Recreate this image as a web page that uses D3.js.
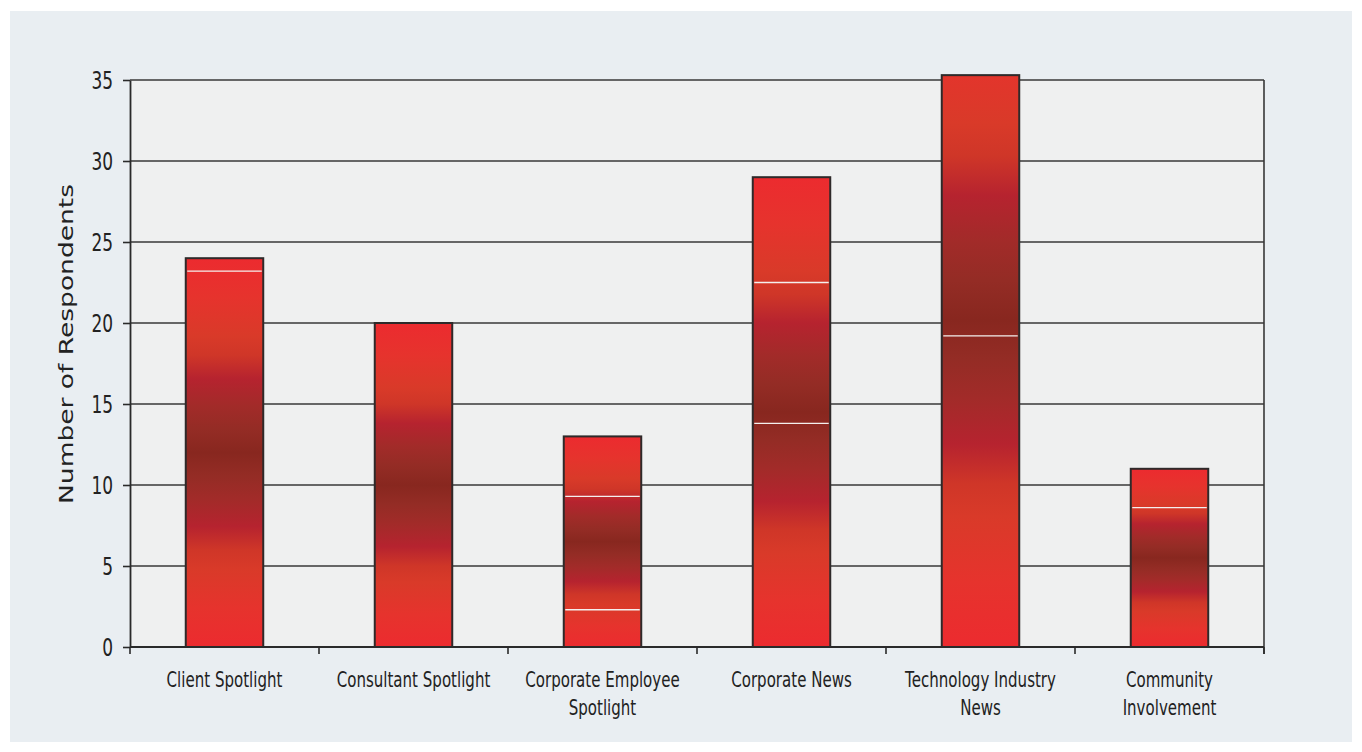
<!DOCTYPE html>
<html>
<head>
<meta charset="utf-8">
<script src="https://cdn.jsdelivr.net/npm/d3@7/dist/d3.min.js"></script>
<style>
  html, body { margin: 0; padding: 0; background: #ffffff; }
  svg { display: block; }
</style>
</head>
<body>
<svg id="chart" width="1362" height="752"></svg>
<script>
// ---- data ----
const categories = ["Client Spotlight", "Consultant Spotlight", "Corporate Employee Spotlight", "Corporate News", "Technology Industry News", "Community Involvement"];
const labelLines = [["Client Spotlight"], ["Consultant Spotlight"], ["Corporate Employee", "Spotlight"], ["Corporate News"], ["Technology Industry", "News"], ["Community", "Involvement"]];
const values = [24, 20, 13, 29, 35.3, 11];
// value at which each bar's shading pattern ends (the tallest bar is cut off)
const shadeTop = [24, 20, 13, 29, 40.4, 11];
// thin light seams visible inside the bars (value positions)
const seams = [[23.2], [], [9.3, 2.3], [22.5, 13.8], [19.2], [8.6]];
const yTicks = [0, 5, 10, 15, 20, 25, 30, 35];
const yTitle = "Number of Respondents";

// ---- layout ----
const svg = d3.select("#chart");
const plot = { left: 130, right: 1264, top: 80, bottom: 647 };
const FONT = "'DejaVu Sans', Verdana, sans-serif";
const SX = 0.70; // horizontal condensing of text

const x = d3.scaleBand().domain(categories).range([plot.left, plot.right])
  .paddingInner(0.59).paddingOuter(0.295);
const y = d3.scaleLinear().domain([0, 35]).range([plot.bottom, plot.top]);

// panel background
svg.append("rect").attr("x", 10).attr("y", 11).attr("width", 1342).attr("height", 731).attr("fill", "#e9eef2");
// plot area
svg.append("rect").attr("x", plot.left).attr("y", y(35)).attr("width", plot.right - plot.left)
  .attr("height", y(0) - y(35)).attr("fill", "#eff0f0");

// gradient (mirrored)
const defs = svg.append("defs");
const stops = [
  [0.00, "#ec2b2f"], [0.10, "#e6332d"], [0.20, "#d93a29"], [0.25, "#cf3628"],
  [0.31, "#b6232f"], [0.38, "#a22b29"], [0.44, "#942c25"], [0.50, "#88271f"],
  [0.56, "#942c25"], [0.62, "#a22b29"], [0.69, "#b6232f"], [0.75, "#cf3628"],
  [0.80, "#d93a29"], [0.90, "#e6332d"], [1.00, "#ec2b2f"]
];
const data = categories.map((c, i) => ({ c, i, v: values[i], top: shadeTop[i], s: seams[i] }));
data.forEach(d => {
  const g = defs.append("linearGradient").attr("id", "barGrad" + d.i)
    .attr("gradientUnits", "userSpaceOnUse")
    .attr("x1", 0).attr("x2", 0).attr("y1", y(d.top)).attr("y2", y(0));
  g.selectAll("stop").data(stops).join("stop")
    .attr("offset", s => s[0]).attr("stop-color", s => s[1]);
});

// gridlines
svg.append("g").selectAll("line").data(yTicks.filter(t => t > 0)).join("line")
  .attr("x1", plot.left).attr("x2", plot.right)
  .attr("y1", d => y(d)).attr("y2", d => y(d))
  .attr("stroke", "#383838").attr("stroke-width", 1.6);

// right border
svg.append("line").attr("x1", plot.right).attr("x2", plot.right)
  .attr("y1", y(35)).attr("y2", y(0) + 7).attr("stroke", "#383838").attr("stroke-width", 1.6);

// bars
const bars = svg.append("g");
bars.selectAll("rect").data(data).join("rect")
  .attr("x", d => x(d.c)).attr("width", x.bandwidth())
  .attr("y", d => y(d.v)).attr("height", d => y(0) - y(d.v))
  .attr("fill", d => `url(#barGrad${d.i})`)
  .attr("stroke", "#2e2a2a").attr("stroke-width", 2);

// seams
const seamData = data.flatMap(d => d.s.map(v => ({ c: d.c, v })));
bars.selectAll("line").data(seamData).join("line")
  .attr("x1", d => x(d.c) + 1.5).attr("x2", d => x(d.c) + x.bandwidth() - 1.5)
  .attr("y1", d => y(d.v)).attr("y2", d => y(d.v))
  .attr("stroke", "#f4f0ee").attr("stroke-width", 1.3);

// y axis
const yAxis = svg.append("g").attr("transform", `translate(${plot.left},0)`)
  .call(d3.axisLeft(y).tickValues(yTicks).tickSize(7).tickSizeOuter(0).tickPadding(10));
yAxis.select(".domain").attr("stroke", "#2a2a2a").attr("stroke-width", 1.8);
yAxis.selectAll(".tick line").attr("stroke", "#2a2a2a").attr("stroke-width", 1.6);
yAxis.selectAll(".tick text")
  .attr("fill", "#222").attr("font-family", FONT).attr("font-size", 25)
  .attr("x", -17 / 0.68).attr("dy", "0.35em")
  .attr("transform", "scale(0.68,1)");

// x axis line and boundary ticks
svg.append("line").attr("x1", plot.left).attr("x2", plot.right)
  .attr("y1", y(0)).attr("y2", y(0)).attr("stroke", "#2a2a2a").attr("stroke-width", 1.8);
const bounds = d3.range(categories.length + 1).map(i => plot.left + i * x.step());
svg.append("g").selectAll("line").data(bounds).join("line")
  .attr("x1", d => d).attr("x2", d => d).attr("y1", y(0)).attr("y2", y(0) + 7)
  .attr("stroke", "#2a2a2a").attr("stroke-width", 1.6);

// x labels
const xl = svg.append("g");
data.forEach((d, i) => {
  const cx = x(d.c) + x.bandwidth() / 2;
  const t = xl.append("text")
    .attr("transform", `translate(${cx},687) scale(${SX},1)`)
    .attr("text-anchor", "middle").attr("font-family", FONT).attr("font-size", 21.5).attr("fill", "#222");
  labelLines[i].forEach((ln, j) => {
    t.append("tspan").attr("x", 0).attr("y", j * 28).text(ln);
  });
});

// y title
svg.append("text")
  .attr("transform", "translate(73,344) scale(0.74,1) rotate(-90)")
  .attr("text-anchor", "middle").attr("font-family", FONT).attr("font-size", 26.5)
  .attr("fill", "#222").text(yTitle);
</script>
</body>
</html>
